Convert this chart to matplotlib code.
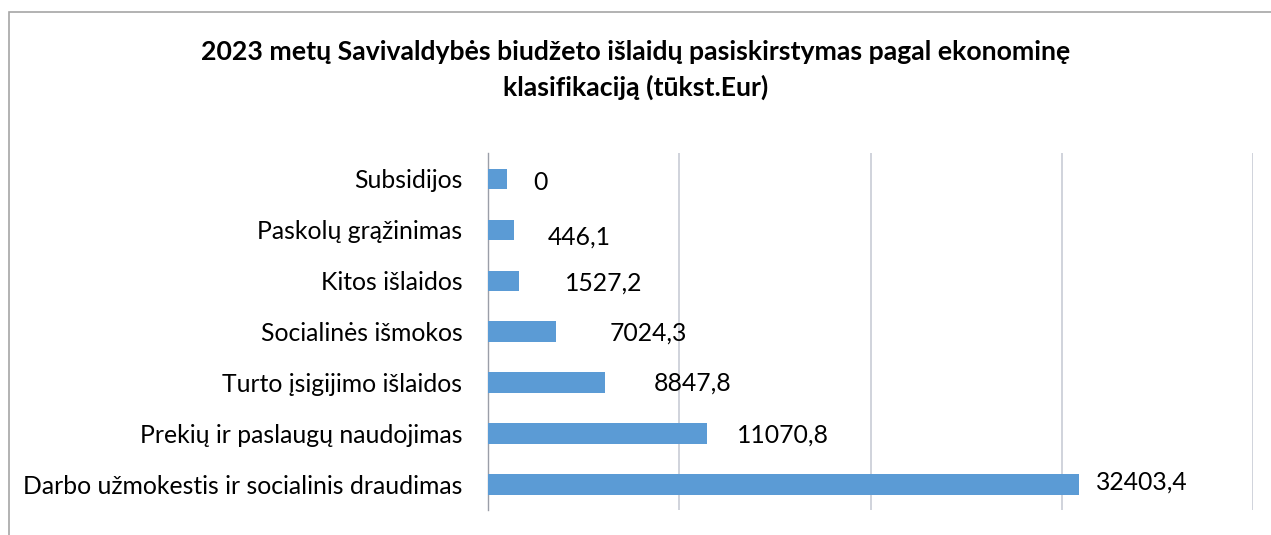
import matplotlib
matplotlib.use("Agg")
import matplotlib.pyplot as plt
from matplotlib.patches import Rectangle

# ---- data ----
categories = [
    "Subsidijos",
    "Paskolų grąžinimas",
    "Kitos išlaidos",
    "Socialinės išmokos",
    "Turto įsigijimo išlaidos",
    "Prekių ir paslaugų naudojimas",
    "Darbo užmokestis ir socialinis draudimas",
]
# bar lengths as drawn in the picture (axis units)
bar_values = [1010, 1360, 1605, 3570, 6100, 11450, 30880]
# data label texts as printed
label_texts = ["0", "446,1", "1527,2", "7024,3", "8847,8", "11070,8", "32403,4"]
title_lines = [
    "2023 metų Savivaldybės biudžeto išlaidų pasiskirstymas pagal ekonominę",
    "klasifikaciją (tūkst.Eur)",
]

# ---- layout (pixels) ----
label_dx_px = [26, 34, 46, 53, 49, 30, 17]
label_dy_px = [3.5, 7.4, 2.3, 1, 0.3, 2, -2]

plt.rcParams["font.family"] = ["Lato", "DejaVu Sans"]

W, H = 1271, 535
fig = plt.figure(figsize=(W / 100, H / 100), dpi=100)
ax = fig.add_axes([488 / W, 1 - 510 / H, (1253.3 - 488) / W, (510 - 153.3) / H])

ypos = list(range(len(categories)))
ax.barh(ypos, bar_values, height=0.4, color="#5b9bd5", zorder=3)
ax.set_ylim(-0.5, len(categories) - 0.5)
ax.invert_yaxis()
ax.set_xlim(0, 40000)
ax.set_xticks([0, 10000, 20000, 30000, 40000])
ax.set_xticklabels([])
ax.tick_params(axis="x", length=0)
ax.grid(axis="x", color="#c8ccd6", linewidth=1.2, zorder=0)
ax.set_yticks(ypos)
ax.set_yticklabels(categories, fontsize=17.8, color="#000000")
ax.tick_params(axis="y", length=0, pad=18.5)
for s in ["top", "right", "bottom"]:
    ax.spines[s].set_visible(False)
ax.spines["left"].set_color("#9a9ea8")
ax.spines["left"].set_linewidth(1.0)

for i, (v, t) in enumerate(zip(bar_values, label_texts)):
    ax.annotate(t, xy=(v, i), xytext=(label_dx_px[i] * 0.72, -label_dy_px[i] * 0.72),
                textcoords="offset points", ha="left", va="center",
                fontsize=17.8, color="#000000")

fig.text(0.5, 1 - 52 / H, title_lines[0], ha="center", va="center",
         fontsize=19.2, fontweight="bold", color="#000000")
fig.text(0.5, 1 - 87 / H, title_lines[1], ha="center", va="center",
         fontsize=19.2, fontweight="bold", color="#000000")

# chart area border (partly cropped)
fig.patches.append(Rectangle((9 / W, -0.1), 1.2, 1 - 12 / H + 0.1,
                             transform=fig.transFigure, fill=False,
                             edgecolor="#a6a6a6", linewidth=1.2))

fig.savefig("out.png", dpi=100)
